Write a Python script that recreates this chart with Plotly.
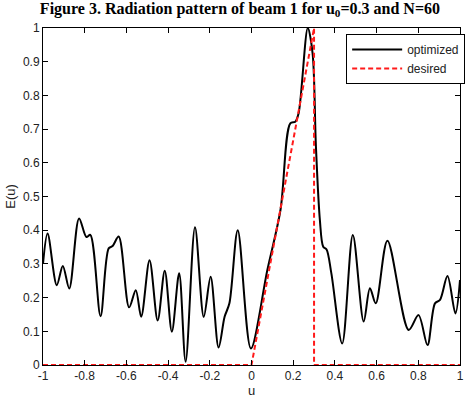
import plotly.graph_objects as go

# optimized pattern
u_opt = [-1.0, -0.978, -0.934, -0.905, -0.874, -0.827, -0.792, -0.773, -0.724, -0.685, -0.666,
         -0.637, -0.587, -0.555, -0.529, -0.489, -0.45, -0.416, -0.382, -0.347, -0.316, -0.271,
         -0.229, -0.196, -0.158, -0.129, -0.106, -0.066, -0.003, 0.076, 0.139, 0.186, 0.21, 0.226,
         0.27, 0.293, 0.309, 0.328, 0.344, 0.36, 0.383, 0.435, 0.486, 0.538, 0.568, 0.596, 0.652,
         0.754, 0.801, 0.844, 0.88, 0.904, 0.94, 0.978, 1.0]
e_opt = [0.30, 0.39, 0.237, 0.294, 0.227, 0.435, 0.38, 0.386, 0.145, 0.346, 0.353,
         0.381, 0.171, 0.222, 0.143, 0.311, 0.132, 0.28, 0.099, 0.272, 0.01, 0.409,
         0.143, 0.262, 0.052, 0.143, 0.183, 0.40, 0.049, 0.282, 0.46, 0.717, 0.722, 0.747,
         1.0, 0.925, 0.648, 0.43, 0.351, 0.343, 0.272, 0.064, 0.386, 0.129, 0.228, 0.183, 0.369,
         0.104, 0.148, 0.059, 0.183, 0.193, 0.264, 0.153, 0.252]

# desired pattern
u_des = [-1.0, 0.0, 0.3, 0.3, 1.0]
e_des = [0.0, 0.0, 1.0, 0.0, 0.0]

x_ticks = [-1, -0.8, -0.6, -0.4, -0.2, 0, 0.2, 0.4, 0.6, 0.8, 1]
x_labels = ["-1", "-0.8", "-0.6", "-0.4", "-0.2", "0", "0.2", "0.4", "0.6", "0.8", "1"]
y_ticks = [0, 0.1, 0.2, 0.3, 0.4, 0.5, 0.6, 0.7, 0.8, 0.9, 1]
y_labels = ["0", "0.1", "0.2", "0.3", "0.4", "0.5", "0.6", "0.7", "0.8", "0.9", "1"]

fig = go.Figure()
fig.add_trace(go.Scatter(x=u_opt, y=e_opt, mode="lines", name="optimized",
                         line=dict(color="black", width=2, shape="spline", smoothing=0.9)))
fig.add_trace(go.Scatter(x=u_des, y=e_des, mode="lines", name="desired",
                         line=dict(color="#ff1a1a", width=2, dash="5px,3px")))

axis_common = dict(showgrid=False, zeroline=False, showline=True, linecolor="black",
                   linewidth=1, mirror="allticks", ticks="inside", ticklen=5,
                   tickcolor="black", tickfont=dict(family="Liberation Sans, Arial", size=12, color="#222"))

fig.update_layout(
    width=469, height=402,
    margin=dict(l=43, r=4, t=28, b=37),
    paper_bgcolor="white", plot_bgcolor="white",
    title=dict(text="<b>Figure 3. Radiation pattern of beam 1 for u<sub>0</sub>=0.3 and N=60</b>",
               font=dict(family="Liberation Serif, Times New Roman", size=16, color="black"),
               xref="container", yref="container", x=440/469, xanchor="right",
               y=1 - 14/402, yanchor="bottom"),
    xaxis=dict(range=[-1, 1], tickvals=x_ticks, ticktext=x_labels,
               title=dict(text="u", font=dict(family="Liberation Sans, Arial", size=13, color="#222"), standoff=2),
               **axis_common),
    yaxis=dict(range=[0, 1], tickvals=y_ticks, ticktext=y_labels,
               title=dict(text="E(u)", font=dict(family="Liberation Sans, Arial", size=13, color="#222"), standoff=4),
               **axis_common),
    legend=dict(x=0.727, y=0.982, xanchor="left", yanchor="top",
                bordercolor="black", borderwidth=1, bgcolor="white",
                font=dict(family="Liberation Sans, Arial", size=12, color="#222"),
                tracegroupgap=0, itemwidth=50),
    showlegend=True,
)

fig.write_html("out.html")
